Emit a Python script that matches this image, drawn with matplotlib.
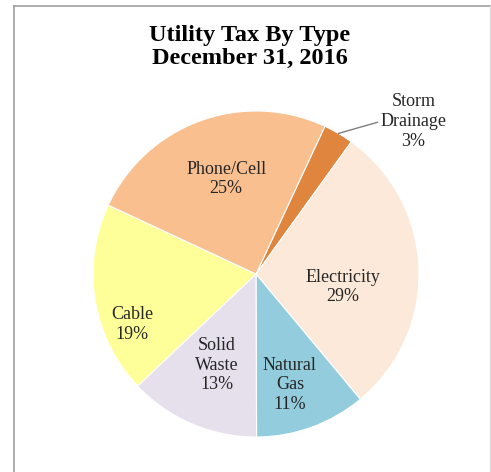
import numpy as np
import matplotlib
matplotlib.use("Agg")
import matplotlib.pyplot as plt
from matplotlib.lines import Line2D

# ---- data ----
categories = ["Storm\nDrainage", "Electricity", "Natural\nGas", "Solid\nWaste", "Cable", "Phone/Cell"]
shares = [3, 29, 11, 13, 19, 25]
colors = ["#DF853E", "#FDE9DA", "#93CDDD", "#E6E0EC", "#FFFF99", "#F9BF8F"]
title = "Utility Tax By Type\nDecember 31, 2016"

# ---- layout (label radial distance, angle tweak in degrees, ccw positive) ----
label_r = [1.345, 0.54, 0.71, 0.61, 0.82, 0.61]
label_dang = [-15.5, -10.5, -3.0, 0.0, 13.0, -2.5]

W, H = 491, 472
fig = plt.figure(figsize=(W / 100, H / 100), dpi=100)
fig.patch.set_facecolor("white")

cx, cy, R = 256, 274, 163
ax = fig.add_axes([(cx - R) / W, (H - cy - R) / H, 2 * R / W, 2 * R / H])
wedges, _ = ax.pie(shares, colors=colors, startangle=65, counterclock=False,
                   wedgeprops=dict(edgecolor="white", linewidth=0.8))
ax.set_xlim(-1, 1)
ax.set_ylim(-1, 1)
ax.set_aspect("equal")
ax.axis("off")

font = dict(family=["Liberation Serif", "DejaVu Serif"], fontsize=13, color="#262626")
for w, lab, s, r, da in zip(wedges, categories, shares, label_r, label_dang):
    mid = np.deg2rad((w.theta1 + w.theta2) / 2 + da)
    x, y = r * np.cos(mid), r * np.sin(mid)
    txt = f"{lab}\n{s}%"
    if s == 3:
        mid0 = np.deg2rad((w.theta1 + w.theta2) / 2)
        ax.annotate(txt, xy=(np.cos(mid0), np.sin(mid0)), xytext=(x, y),
                    ha="center", va="center", linespacing=1.2,
                    arrowprops=dict(arrowstyle="-", color="#7F7F7F", lw=1.0,
                                    shrinkA=0, shrinkB=0,
                                    relpos=(0.0, 0.5)),
                    annotation_clip=False, **font)
    else:
        ax.text(x, y, txt, ha="center", va="center", linespacing=1.2, **font)

fig.text(0.5 + 4 / W, 1 - 47 / H, title, ha="center", va="center",
         fontsize=17.5, fontweight="bold", linespacing=1.12,
         family=["Liberation Serif", "DejaVu Serif"], color="black")

# frame
fig.add_artist(Line2D([13.5 / W, 13.5 / W], [0, 1 - 5.5 / H], color="#A0A0A0", lw=1.2,
                      transform=fig.transFigure))
fig.add_artist(Line2D([13.5 / W, 490 / W], [1 - 5.5 / H, 1 - 5.5 / H], color="#A0A0A0", lw=1.2,
                      transform=fig.transFigure))
fig.add_artist(Line2D([489.5 / W, 489.5 / W], [0, 1 - 5.5 / H], color="#DCDCDC", lw=1.0,
                      transform=fig.transFigure))

fig.savefig("out.png", dpi=100, facecolor="white")
